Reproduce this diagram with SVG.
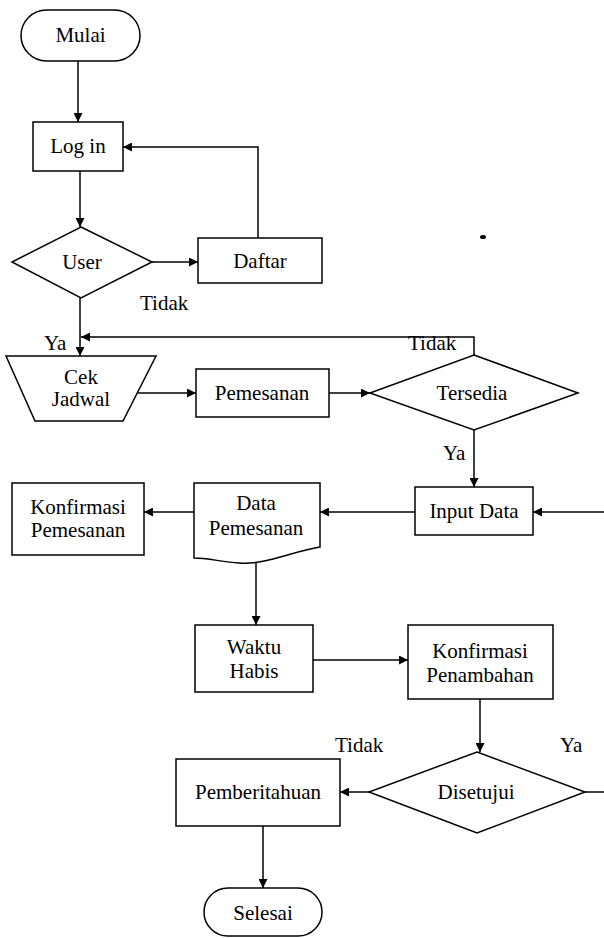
<svg xmlns="http://www.w3.org/2000/svg" width="604" height="938" viewBox="0 0 604 938">
  <defs>
    <marker id="arrow" viewBox="0 0 10 10" refX="10" refY="5" markerWidth="9" markerHeight="9" markerUnits="userSpaceOnUse" orient="auto">
      <path d="M0,0 L10,5 L0,10 z" fill="#000"/>
    </marker>
    <style>
      .shape { fill: #fff; stroke: #000; stroke-width: 1.5; }
      .label { font-size: 21px; fill: #000; text-anchor: middle; }
      .note { font-size: 21px; fill: #000; }
      .edge { fill: none; stroke: #000; stroke-width: 1.5; }
      .arrowed { marker-end: url(#arrow); }
    </style>
  </defs>
  <rect width="604" height="938" fill="#fff"/>

  <g id="connectors">
    <path class="edge arrowed" d="M78,61 V122"/>
    <path class="edge arrowed" d="M80,171 V227"/>
    <path class="edge arrowed" d="M152,262 H198"/>
    <path class="edge arrowed" d="M258,238 V147 H123"/>
    <path class="edge arrowed" d="M80,298 V356"/>
    <path class="edge arrowed" d="M474,356 V337 H81"/>
    <path class="edge arrowed" d="M138,393 H196"/>
    <path class="edge arrowed" d="M329,393 H370"/>
    <path class="edge arrowed" d="M474,430 V487"/>
    <path class="edge arrowed" d="M604,512 H533"/>
    <path class="edge arrowed" d="M415,512 H320"/>
    <path class="edge arrowed" d="M194,512 H144"/>
    <path class="edge arrowed" d="M256,562 V625"/>
    <path class="edge arrowed" d="M313,660 H408"/>
    <path class="edge arrowed" d="M480,699 V752"/>
    <path class="edge arrowed" d="M369,792 H340"/>
    <path class="edge" d="M585,792 H604"/>
    <path class="edge arrowed" d="M263,826 V888"/>
  </g>

  <g font-family="'Liberation Serif', 'DejaVu Serif', serif">
  <g id="mulai">
    <rect class="shape" x="21" y="10" width="119" height="51" rx="25.5"/>
    <text class="label" x="80.5" y="42">Mulai</text>
  </g>
  <g id="login">
    <rect class="shape" x="33" y="122" width="90" height="49"/>
    <text class="label" x="78" y="153">Log in</text>
  </g>
  <g id="user">
    <polygon class="shape" points="81,227 152,262 81,298 12,262"/>
    <text class="label" x="82" y="269">User</text>
  </g>
  <g id="daftar">
    <rect class="shape" x="198" y="238" width="124" height="45"/>
    <text class="label" x="260" y="268">Daftar</text>
  </g>
  <g id="cek-jadwal">
    <polygon class="shape" points="6,356 156,356 123,421 35,421"/>
    <text class="label" x="81" y="384">Cek</text>
    <text class="label" x="81" y="406">Jadwal</text>
  </g>
  <g id="pemesanan">
    <rect class="shape" x="196" y="369" width="133" height="48"/>
    <text class="label" x="262" y="400">Pemesanan</text>
  </g>
  <g id="tersedia">
    <polygon class="shape" points="474,355 578,393 474,430 370,393"/>
    <text class="label" x="472" y="400">Tersedia</text>
  </g>
  <g id="input-data">
    <rect class="shape" x="415" y="487" width="118" height="48"/>
    <text class="label" x="474" y="518">Input Data</text>
  </g>
  <g id="data-pemesanan">
    <path class="shape" d="M194,483 H320 V547 C290,552 265,565 239,563 C222,562 208,558 194,558 Z"/>
    <text class="label" x="256" y="510">Data</text>
    <text class="label" x="256" y="535">Pemesanan</text>
  </g>
  <g id="konfirmasi-pemesanan">
    <rect class="shape" x="12" y="483" width="132" height="72"/>
    <text class="label" x="78" y="514">Konfirmasi</text>
    <text class="label" x="78" y="537">Pemesanan</text>
  </g>
  <g id="waktu-habis">
    <rect class="shape" x="195" y="625" width="118" height="67"/>
    <text class="label" x="254" y="654">Waktu</text>
    <text class="label" x="254" y="678">Habis</text>
  </g>
  <g id="konfirmasi-penambahan">
    <rect class="shape" x="408" y="625" width="145" height="74"/>
    <text class="label" x="480" y="658">Konfirmasi</text>
    <text class="label" x="480" y="682">Penambahan</text>
  </g>
  <g id="disetujui">
    <polygon class="shape" points="477,752 585,792 477,833 369,792"/>
    <text class="label" x="476" y="799">Disetujui</text>
  </g>
  <g id="pemberitahuan">
    <rect class="shape" x="176" y="759" width="164" height="67"/>
    <text class="label" x="258" y="799">Pemberitahuan</text>
  </g>
  <g id="selesai">
    <rect class="shape" x="204" y="888" width="118" height="48" rx="24"/>
    <text class="label" x="263" y="920">Selesai</text>
  </g>

  <g id="labels">
    <text class="note" x="140" y="310">Tidak</text>
    <text class="note" x="44" y="350">Ya</text>
    <text class="note" x="408" y="350">Tidak</text>
    <text class="note" x="443" y="460">Ya</text>
    <text class="note" x="335" y="752">Tidak</text>
    <text class="note" x="560" y="752">Ya</text>
  </g>
  </g>
  <ellipse cx="483" cy="237" rx="3" ry="2" fill="#000"/>
</svg>
